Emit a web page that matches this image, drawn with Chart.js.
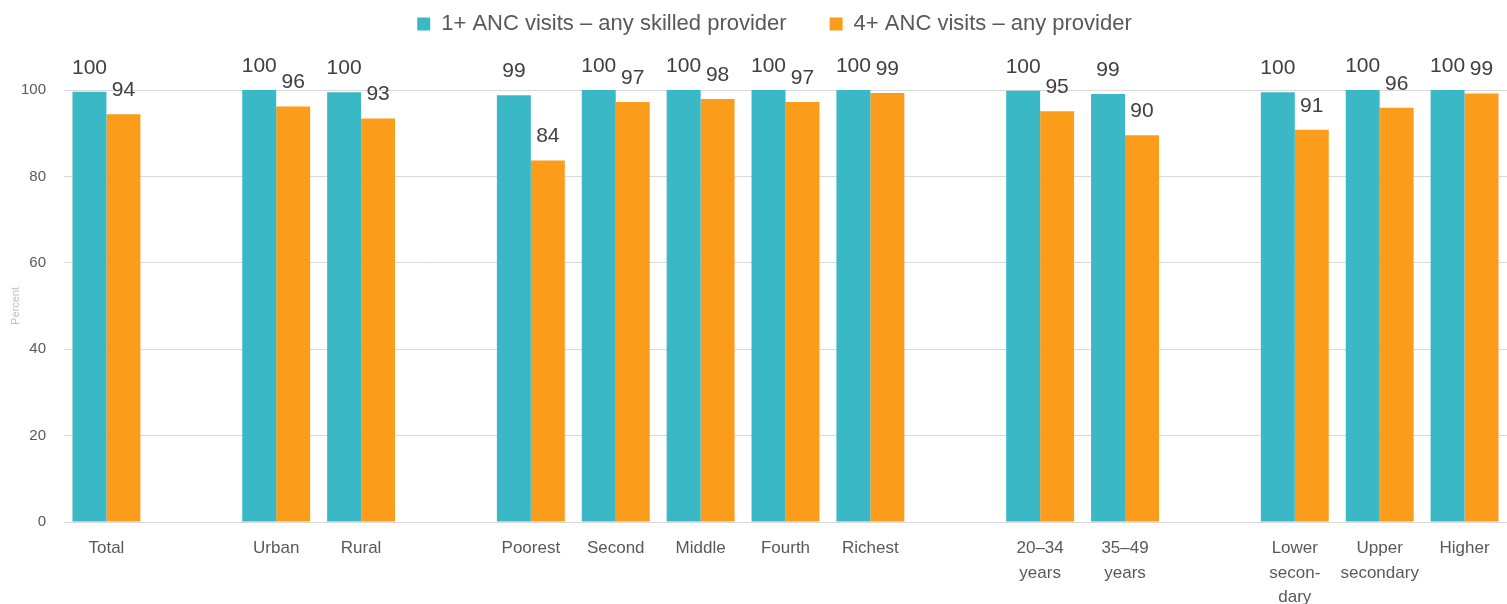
<!DOCTYPE html>
<html>
<head>
<meta charset="utf-8">
<script src="https://cdn.jsdelivr.net/npm/chart.js@4.4.1/dist/chart.umd.min.js"></script>
<style>
  html, body { margin: 0; padding: 0; background: #ffffff; }
  #wrap { width: 1507px; height: 604px; position: relative; }
</style>
</head>
<body>
<div id="wrap"><canvas id="anc"></canvas></div>
<script>
// ─── Data ───
const categories = [
  'Total', '',
  'Urban', 'Rural', '',
  'Poorest', 'Second', 'Middle', 'Fourth', 'Richest', '',
  ['20\u201334', 'years'], ['35\u201349', 'years'], '',
  ['Lower', 'secon-', 'dary'], ['Upper', 'secondary'], 'Higher'
];
const anyVisitSkilled = [
  99.6, null,
  100, 99.5, null,
  98.8, 100, 100, 100, 100, null,
  99.8, 99.1, null,
  99.5, 100, 100
];
const fourVisitsAny = [
  94.4, null,
  96.2, 93.4, null,
  83.7, 97.2, 97.9, 97.2, 99.3, null,
  95.1, 89.5, null,
  90.8, 95.9, 99.2
];
const seriesNames = ['1+ ANC visits \u2013 any skilled provider', '4+ ANC visits \u2013 any provider'];
const yTicks = [0, 20, 40, 60, 80, 100];

const TEAL = '#3ab8c6';
const ORANGE = '#fb9c1a';
const TEXT = '#595959';
const FONT = "'Liberation Sans', Arial, sans-serif";

// ─── Value labels above bars ───
const barLabels = {
  id: 'barLabels',
  afterDatasetsDraw(chart) {
    const ctx = chart.ctx;
    ctx.save();
    ctx.font = '21px ' + FONT;
    ctx.fillStyle = '#404040';
    ctx.textAlign = 'center';
    ctx.textBaseline = 'middle';
    chart.data.datasets.forEach((ds, i) => {
      chart.getDatasetMeta(i).data.forEach((bar, j) => {
        const v = ds.data[j];
        if (v == null) return;
        ctx.fillText(Math.round(v), bar.x, bar.y - 24);
      });
    });
    ctx.restore();
  }
};

// ─── Legend box sizing / placement ───
const legendFit = {
  id: 'legendFit',
  beforeInit(chart) {
    const fit = chart.legend.fit;
    chart.legend.fit = function () {
      fit.call(this);
      this.height = 120;
    };
  },
  afterLayout(chart) {
    chart.legend.left += 21;
    chart.legend.right += 21;
  }
};

new Chart(document.getElementById('anc'), {
  type: 'bar',
  data: {
    labels: categories,
    datasets: [
      { label: seriesNames[0], data: anyVisitSkilled, backgroundColor: TEAL },
      { label: seriesNames[1], data: fourVisitsAny, backgroundColor: ORANGE }
    ]
  },
  options: {
    responsive: true,
    maintainAspectRatio: false,
    animation: false,
    devicePixelRatio: 1,
    categoryPercentage: 0.8,
    barPercentage: 1.0,
    layout: { padding: { top: -30, right: 0, left: 0, bottom: 0 } },
    plugins: {
      tooltip: { enabled: false },
      legend: {
        display: true,
        position: 'top',
        labels: {
          color: TEXT,
          font: { family: FONT, size: 22 },
          boxWidth: 13,
          boxHeight: 13,
          padding: 43
        }
      }
    },
    scales: {
      x: {
        grid: { display: false },
        border: { color: '#d9d9d9', width: 1 },
        afterFit: (axis) => { axis.height = 82; },
        ticks: {
          autoSkip: false,
          maxRotation: 0,
          minRotation: 0,
          color: TEXT,
          font: { family: FONT, size: 17, lineHeight: 1.45 },
          padding: 6
        }
      },
      y: {
        min: 0,
        max: 100,
        afterBuildTicks: (axis) => { axis.ticks = yTicks.map(v => ({ value: v })); },
        afterFit: (axis) => { axis.width = 64; },
        grid: { color: '#d9d9d9', drawTicks: false },
        border: { display: false },
        title: {
          display: true,
          text: 'Percent',
          color: '#bfbfbf',
          font: { family: FONT, size: 11 },
          padding: { top: 9, bottom: 0 }
        },
        ticks: {
          color: TEXT,
          font: { family: FONT, size: 15 },
          padding: 18
        }
      }
    }
  },
  plugins: [barLabels, legendFit]
});
</script>
</body>
</html>
